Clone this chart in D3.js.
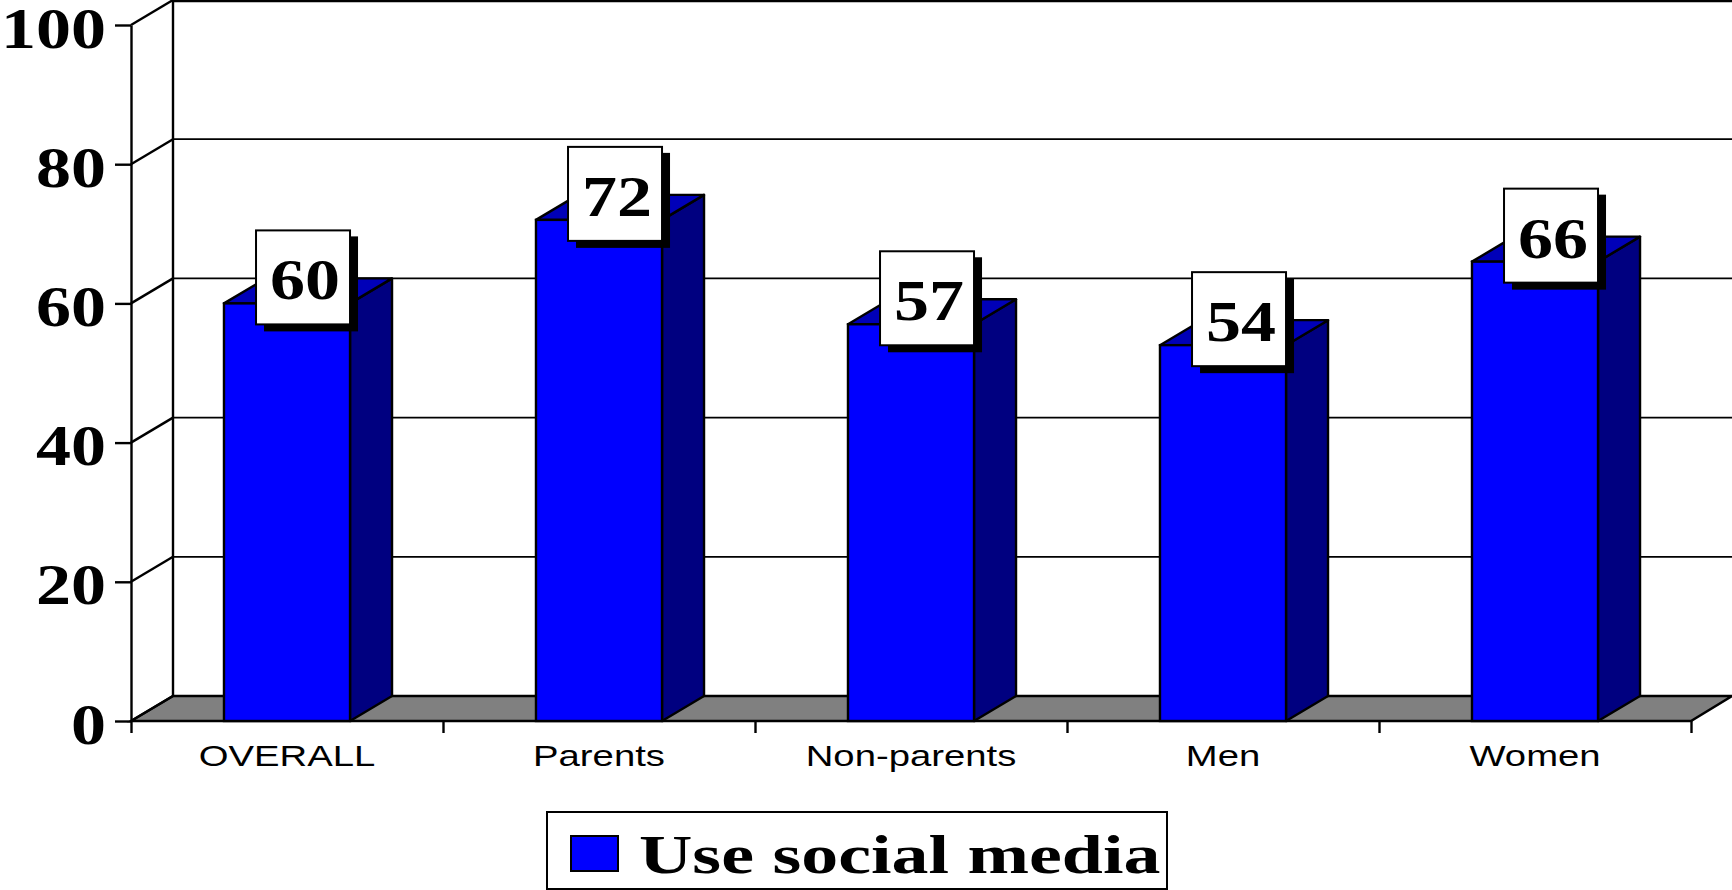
<!DOCTYPE html>
<html><head><meta charset="utf-8">
<script src="https://cdn.jsdelivr.net/npm/d3@7"></script>
<style>html,body{margin:0;padding:0;background:#fff;overflow:hidden}svg{display:block}</style>
</head><body><svg id="c" width="1732" height="890"></svg>
<script>
const categories = ["OVERALL","Parents","Non-parents","Men","Women"];
const values = [60,72,57,54,66];
const yTicks = [0,20,40,60,80,100];
const seriesName = "Use social media";

const left=131, right=1691, y0=721, y100=25, dx=42, dy=25;
const sw=2.4;
const svg=d3.select("#c");
const y=d3.scaleLinear().domain([0,100]).range([y0,y100]);
const x=d3.scaleBand().domain(categories).range([left,right]).paddingInner(0.596).paddingOuter(0.298);
const edges=d3.scaleLinear().domain([0,categories.length]).range([left,right]);
const serif="'Liberation Serif','Times New Roman',serif", sans="'Liberation Sans',Arial,sans-serif";
const BLUE="#0000ff",SIDE="#000080",TOP="#0000b8",FLOOR="#808080";

// floor
svg.append("polygon").attr("points",[[left,y0],[left+dx,y0-dy],[1732,y0-dy],[right,y0]].join(" "))
  .attr("fill",FLOOR).attr("stroke","#000").attr("stroke-width",sw);
// back wall gridlines and diagonals
svg.append("g").selectAll("line.g").data(yTicks.slice(1)).join("line")
  .attr("x1",left+dx).attr("x2",1732).attr("y1",d=>y(d)-dy+(d==100?1:0)).attr("y2",d=>y(d)-dy+(d==100?1:0))
  .attr("stroke","#000").attr("stroke-width",d=>d==100?2.4:1.8);
svg.append("g").selectAll("line").data(yTicks).join("line")
  .attr("x1",left).attr("x2",left+dx).attr("y1",d=>y(d)).attr("y2",d=>y(d)-dy)
  .attr("stroke","#000").attr("stroke-width",sw);
svg.append("line").attr("x1",left+dx).attr("x2",left+dx).attr("y1",0).attr("y2",y0-dy)
  .attr("stroke","#000").attr("stroke-width",sw);

// axes
const ax=svg.append("g").attr("transform",`translate(${left},0)`)
  .call(d3.axisLeft(y).tickValues(yTicks).tickSize(16).tickSizeOuter(0));
ax.selectAll("path,line").attr("stroke","#000").attr("stroke-width",sw);
ax.selectAll("text").attr("x",null).attr("dy",null).attr("text-anchor","end")
  .attr("transform","translate(-25,22) scale(1.25,1)")
  .style("font-family",serif).style("font-weight","bold").style("font-size","56px").attr("fill","#000");
const bx=svg.append("g").attr("transform",`translate(0,${y0})`)
  .call(d3.axisBottom(edges).tickValues(d3.range(categories.length+1)).tickSize(12).tickSizeOuter(0).tickFormat(""));
bx.select("path").remove();
bx.selectAll("line").attr("stroke","#000").attr("stroke-width",sw);

// bars
const rows=categories.map((c,i)=>({c,v:values[i]}));
const bars=svg.append("g").selectAll("g").data(rows).join("g");
const bw=x.bandwidth();
bars.append("polygon").attr("fill",SIDE).attr("stroke","#000").attr("stroke-width",sw).attr("stroke-linejoin","round")
  .attr("points",d=>{const r=x(d.c)+bw,t=y(d.v);return [[r,y0],[r,t],[r+dx,t-dy],[r+dx,y0-dy]].join(" ")});
bars.append("polygon").attr("fill",TOP).attr("stroke","#000").attr("stroke-width",sw).attr("stroke-linejoin","round")
  .attr("points",d=>{const l=x(d.c),r=l+bw,t=y(d.v);return [[l,t],[r,t],[r+dx,t-dy],[l+dx,t-dy]].join(" ")});
bars.append("rect").attr("fill",BLUE).attr("stroke","#000").attr("stroke-width",sw)
  .attr("x",d=>x(d.c)).attr("width",bw).attr("y",d=>y(d.v)).attr("height",d=>y0-y(d.v));

// value labels
const bs=94;
const lab=svg.append("g").selectAll("g").data(rows).join("g")
  .attr("transform",d=>`translate(${x(d.c)+bw-bs},${y(d.v)+21-bs})`);
lab.append("rect").attr("x",8).attr("y",6).attr("width",bs).attr("height",bs+1).attr("fill","#000");
lab.append("rect").attr("width",bs).attr("height",bs).attr("fill","#fff").attr("stroke","#000").attr("stroke-width",2);
lab.append("text").attr("text-anchor","middle").attr("transform",`translate(${bs/2+2},${bs-25}) scale(1.25,1)`)
  .style("font-family",serif).style("font-weight","bold").style("font-size","56px").text(d=>d.v);

// category labels
svg.append("g").selectAll("text").data(categories).join("text")
  .attr("text-anchor","middle").attr("transform",d=>`translate(${x(d)+bw/2},766) scale(1.32,1)`)
  .style("font-family",sans).style("font-size","29px").attr("fill","#000").text(d=>d);

// legend
svg.append("rect").attr("x",547).attr("y",812).attr("width",620).attr("height",77)
  .attr("fill","#fff").attr("stroke","#000").attr("stroke-width",2);
svg.append("rect").attr("x",571).attr("y",836).attr("width",47).attr("height",35)
  .attr("fill",BLUE).attr("stroke","#000").attr("stroke-width",2);
svg.append("text").attr("transform","translate(639,873) scale(1.32,1)")
  .style("font-family",serif).style("font-weight","bold").style("font-size","56px").text(seriesName);
</script></body></html>
